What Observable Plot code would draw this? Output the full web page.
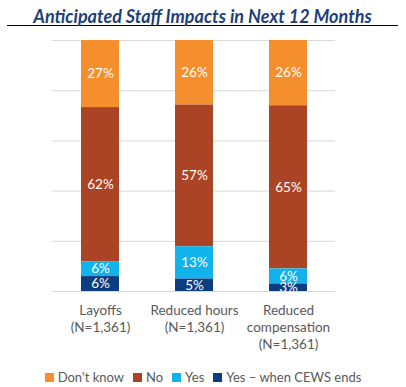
<!DOCTYPE html>
<html>
<head>
<meta charset="utf-8">
<script src="https://cdn.jsdelivr.net/npm/d3@7"></script>
<script src="https://cdn.jsdelivr.net/npm/@observablehq/plot@0.6"></script>
<style>
  html, body { margin: 0; padding: 0; background: #fff; }
  #wrap { width: 406px; height: 387px; position: relative; font-family: Lato, "Open Sans", sans-serif; }
  #title { position: absolute; left: 7px; width: 391px; top: 0; height: 25px; border-bottom: 1px solid #000;
    text-align: center; font-weight: bold; font-style: italic; font-size: 18px; line-height: 32px; color: #1F3F7A; }
  #chart { position: absolute; left: 0; top: 26px; }
  #legend { position: absolute; left: 0; width: 406px; top: 368px; display: flex; justify-content: center; gap: 9px;
    font-size: 13px; color: #595959; line-height: 18px; }
  .item { display: flex; align-items: center; gap: 4px; }
  .sw { width: 9px; height: 9px; display: inline-block; }
</style>
</head>
<body>
<div id="wrap">
  <div id="title">Anticipated Staff Impacts in Next 12 Months</div>
  <div id="chart"></div>
  <div id="legend"></div>
</div>
<script>
const categories = ["Layoffs", "Reduced hours", "Reduced compensation"];
const categoryLabels = ["Layoffs\n(N=1,361)", "Reduced hours\n(N=1,361)", "Reduced\ncompensation\n(N=1,361)"];
const seriesNames = ["Don't know", "No", "Yes", "Yes \u2013 when CEWS ends"];
const seriesColors = ["#F58F2D", "#AB4424", "#12B2EC", "#0B3D80"];
const dontKnow = [27, 26, 26];
const no = [62, 57, 65];
const yes = [6, 13, 6];
const yesCews = [6, 5, 3];
const gridTicks = [0, 0.2, 0.4, 0.6, 0.8, 1];

const seriesValues = [dontKnow, no, yes, yesCews];
const data = [];
categories.forEach((c, i) => {
  seriesNames.forEach((s, j) => {
    data.push({category: c, series: s, value: seriesValues[j][i]});
  });
});
const stackOrder = [seriesNames[3], seriesNames[2], seriesNames[1], seriesNames[0]];
const labelData = categories.map((c, i) => ({category: c, label: categoryLabels[i]}));

const chart = Plot.plot({
  width: 406,
  height: 340,
  marginTop: 14,
  marginBottom: 75,
  marginLeft: 52,
  marginRight: 71,
  style: {fontFamily: "Lato, 'Open Sans', sans-serif", background: "#fff"},
  x: {domain: categories, paddingInner: 0.6, paddingOuter: 0.3, axis: null},
  y: {domain: [0, 1], axis: null},
  color: {domain: seriesNames, range: seriesColors},
  marks: [
    Plot.ruleY(gridTicks, {stroke: "#D9D9D9", strokeWidth: 1}),
    Plot.barY(data, Plot.stackY({offset: "normalize", order: stackOrder}, {x: "category", y: "value", z: "series", fill: "series"})),
    Plot.text(data, Plot.stackY({offset: "normalize", order: stackOrder}, {
      x: "category", y: "value", z: "series", text: d => d.value + "%",
      fill: "#fff", fontSize: 13.5, clip: true
    })),
    Plot.text(labelData, {
      x: "category", frameAnchor: "bottom", dy: 11, text: "label", lineAnchor: "top",
      fill: "#595959", fontSize: 13.5, lineHeight: 1.27
    })
  ]
});
document.getElementById("chart").appendChild(chart);

const legend = document.getElementById("legend");
seriesNames.forEach((s, i) => {
  const it = document.createElement("div");
  it.className = "item";
  const sw = document.createElement("span");
  sw.className = "sw";
  sw.style.background = seriesColors[i];
  const t = document.createElement("span");
  t.textContent = s;
  it.appendChild(sw);
  it.appendChild(t);
  legend.appendChild(it);
});
</script>
</body>
</html>
